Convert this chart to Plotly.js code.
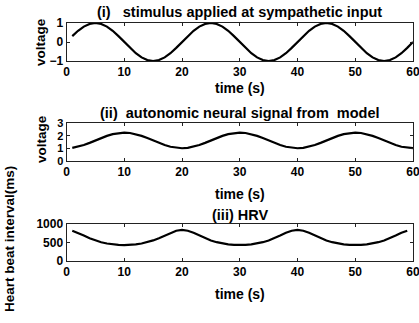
<!DOCTYPE html>
<html><head><meta charset="utf-8">
<script src="https://cdn.plot.ly/plotly-3.0.1.min.js"></script>
<style>html,body{margin:0;padding:0;background:#fff}#c{width:419px;height:323px}</style>
</head><body><div id="c"></div>
<script>
// time samples (s)
const t1 = [1,2,3,4,5,6,7,8,9,10,11,12,13,14,15,16,17,18,19,20,21,22,23,24,25,26,27,28,29,30,31,32,33,34,35,36,37,38,39,40,41,42,43,44,45,46,47,48,49,50,51,52,53,54,55,56,57,58,59,60];
// (i) stimulus applied at sympathetic input (voltage)
const stimulus = [0.31,0.59,0.81,0.95,1.0,0.95,0.81,0.59,0.31,0.0,-0.31,-0.59,-0.81,-0.95,-1.0,-0.95,-0.81,-0.59,-0.31,0.0,
                  0.31,0.59,0.81,0.95,1.0,0.95,0.81,0.59,0.31,0.0,-0.31,-0.59,-0.81,-0.95,-1.0,-0.95,-0.81,-0.59,-0.31,0.0,
                  0.31,0.59,0.81,0.95,1.0,0.95,0.81,0.59,0.31,0.0,-0.31,-0.59,-0.81,-0.95,-1.0,-0.95,-0.81,-0.59,-0.31,0.0];
// (ii) autonomic neural signal from model (voltage)
const neural = [1.03,1.12,1.26,1.43,1.63,1.82,1.99,2.13,2.22,2.25,2.22,2.13,1.99,1.82,1.63,1.43,1.26,1.12,1.03,1.0,
                1.03,1.12,1.26,1.43,1.63,1.82,1.99,2.13,2.22,2.25,2.22,2.13,1.99,1.82,1.63,1.43,1.26,1.12,1.03,1.0,
                1.03,1.12,1.26,1.43,1.63,1.82,1.99,2.13,2.22,2.25,2.22,2.13,1.99,1.82,1.63,1.43,1.26,1.12,1.03,1.0];
// (iii) HRV: heart beat interval (ms)
const t3 = [1,2,3,4,5,6,7,8,9,10,11,12,13,14,15,16,17,18,19,20,21,22,23,24,25,26,27,28,29,30,31,32,33,34,35,36,37,38,39,40,41,42,43,44,45,46,47,48,49,50,51,52,53,54,55,56,57,58,59];
const hrv = [818,762,689,617,556,508,473,448,435,430,435,448,473,508,556,617,689,762,818,840,
             818,762,689,617,556,508,473,448,435,430,435,448,473,508,556,617,689,762,818,840,
             818,762,689,617,556,508,473,448,435,430,435,448,473,508,556,617,689,762,818];
const xTicks = [0,10,20,30,40,50,60];
const titles = ['(i)   stimulus applied at sympathetic input','(ii)  autonomic neural signal from  model','(iii) HRV'];
const xTitle = 'time (s)';
const yTitles = ['voltage','voltage','Heart beat interval(ms)'];

const W = 419, H = 323;
const px = x => x / W, py = y => 1 - y / H;
const lineStyle = {color:'#000', width:2.2};
const traces = [
  {x:t1, y:stimulus, xaxis:'x', yaxis:'y', mode:'lines', line:lineStyle, hoverinfo:'skip'},
  {x:t1, y:neural, xaxis:'x2', yaxis:'y2', mode:'lines', line:lineStyle, hoverinfo:'skip'},
  {x:t3, y:hrv, xaxis:'x3', yaxis:'y3', mode:'lines', line:lineStyle, hoverinfo:'skip'}
];
const xDom = [px(66.5), px(413)];
const axX = (anchor) => ({domain:xDom, anchor:anchor, range:[0,60], tickvals:xTicks, ticks:'inside', ticklen:3,
  tickcolor:'#222', linecolor:'#222', linewidth:1, mirror:'ticks', showgrid:false, zeroline:false,
  ticklabeloverflow:'allow', tickfont:{size:12, color:'#000'}, fixedrange:true});
const axY = (anchor, dom, range, vals, fs) => ({domain:dom, anchor:anchor, range:range, tickvals:vals, ticks:'inside', ticklen:3,
  tickcolor:'#222', linecolor:'#222', linewidth:1, mirror:'ticks', showgrid:false, zeroline:false,
  ticklabeloverflow:'allow', tickfont:{size:fs, color:'#000'}, fixedrange:true});
const layout = {
  width:W, height:H, margin:{l:0,r:0,t:0,b:0}, showlegend:false,
  paper_bgcolor:'#fff', plot_bgcolor:'#fff',
  font:{family:'Liberation Sans, Arial, sans-serif', weight:'bold', color:'#000'},
  xaxis:axX('y'), xaxis2:axX('y2'), xaxis3:axX('y3'),
  yaxis:axY('x', [py(61), py(23)], [-1,1], [-1,0,1], 12),
  yaxis2:axY('x2', [py(160.7), py(123.3)], [0,3], [0,1,2,3], 11),
  yaxis3:axY('x3', [py(261), py(224)], [0,1000], [0,500,1000], 12),
  annotations:[]
};
const titleY = [12, 113, 215];
const xTitleY = [88, 194, 294];
for (let i=0;i<3;i++){
  layout.annotations.push({text:titles[i], xref:'paper', yref:'paper', x:px(239.75), y:py(titleY[i]),
    xanchor:'center', yanchor:'middle', showarrow:false, font:{size:14.5, weight:'bold'}});
  layout.annotations.push({text:xTitle, xref:'paper', yref:'paper', x:px(239.75), y:py(xTitleY[i]),
    xanchor:'center', yanchor:'middle', showarrow:false, font:{size:14, weight:'bold'}});
}
layout.annotations.push({text:yTitles[0], xref:'paper', yref:'paper', x:px(41), y:py(42), textangle:-90,
  xanchor:'center', yanchor:'middle', showarrow:false, font:{size:13.5, weight:'bold'}});
layout.annotations.push({text:yTitles[1], xref:'paper', yref:'paper', x:px(41), y:py(139), textangle:-90,
  xanchor:'center', yanchor:'middle', showarrow:false, font:{size:13.5, weight:'bold'}});
layout.annotations.push({text:yTitles[2], xref:'paper', yref:'paper', x:px(9), y:py(239), textangle:-90,
  xanchor:'center', yanchor:'middle', showarrow:false, font:{size:13.5, weight:'bold'}});
Plotly.newPlot('c', traces, layout, {staticPlot:true});
</script></body></html>
